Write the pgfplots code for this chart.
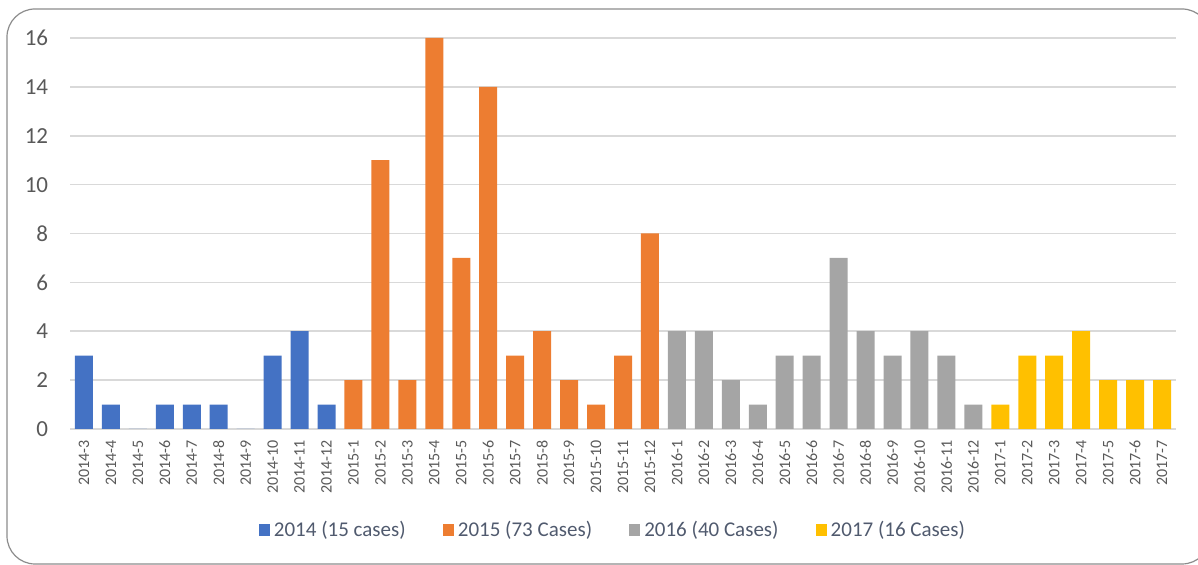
\documentclass[border=0pt]{standalone}
\usepackage{pgfplots}
\pgfplotsset{compat=1.18}
\usepackage{fontspec}
\setmainfont{Carlito}
\definecolor{cA}{HTML}{4472C4}
\definecolor{cB}{HTML}{ED7D31}
\definecolor{cC}{HTML}{A5A5A5}
\definecolor{cD}{HTML}{FFC000}
\definecolor{gridc}{HTML}{D9D9D9}
\definecolor{tickc}{HTML}{595959}
\definecolor{legc}{HTML}{505A6E}
\definecolor{framec}{HTML}{8C8C8C}
\pgfplotsset{
  mybar/.style={ybar, bar width=9pt, bar shift=0pt, draw=none, fill=#1,
    legend image code/.code={\fill[#1] (0pt,-2.8pt) rectangle (5.6pt,2.8pt);}},
}
\begin{document}
\begin{tikzpicture}
\useasboundingbox (-35.25pt,-68pt) rectangle (563.75pt,214.5pt);
\begin{scope}
\clip (-35.25pt,-68pt) rectangle (563.75pt,214.5pt);
\draw[framec, line width=0.6pt, rounded corners=14pt] (-31.75pt,-67.5pt) rectangle (569.75pt,210pt);
\end{scope}
\begin{axis}[
  at={(0pt,0pt)}, anchor=south west,
  scale only axis, width=552.5pt, height=195.5pt,
  xmin=-0.5, xmax=40.5, ymin=0, ymax=16,
  ytick={0,2,...,16},
  xtick={0,...,40},
  xticklabels={2014-3,2014-4,2014-5,2014-6,2014-7,2014-8,2014-9,2014-10,2014-11,2014-12,
    2015-1,2015-2,2015-3,2015-4,2015-5,2015-6,2015-7,2015-8,2015-9,2015-10,2015-11,2015-12,
    2016-1,2016-2,2016-3,2016-4,2016-5,2016-6,2016-7,2016-8,2016-9,2016-10,2016-11,2016-12,
    2017-1,2017-2,2017-3,2017-4,2017-5,2017-6,2017-7},
  /pgf/number format/assume math mode=true,
  axis x line*=bottom, axis y line*=left,
  y axis line style={draw=none},
  x axis line style={draw=gridc, line width=0.8pt},
  major tick length=0pt,
  ymajorgrids, grid style={gridc, line width=0.8pt},
  yticklabel style={inner sep=0pt, xshift=-11pt, font=\fontsize{11.5}{13}\selectfont, text=tickc},
  xticklabel style={rotate=90, anchor=east, inner sep=0pt, font=\fontsize{8}{9}\selectfont, text=tickc},
  xticklabel shift=5.5pt,
  legend columns=4,
  legend style={at={(0.170,-0.2583)}, anchor=west, draw=none, fill=none,
    inner xsep=0pt, inner ysep=0pt,
    font=\fontsize{10.5}{12}\selectfont, text=legc,
    /tikz/every even column/.append style={column sep=16.5pt}},
]
\addplot[mybar=cA] coordinates {(0,3)(1,1)(2,0)(3,1)(4,1)(5,1)(6,0)(7,3)(8,4)(9,1)};
\addlegendentry{2014 (15 cases)}
\addplot[mybar=cB] coordinates {(10,2)(11,11)(12,2)(13,16)(14,7)(15,14)(16,3)(17,4)(18,2)(19,1)(20,3)(21,8)};
\addlegendentry{2015 (73 Cases)}
\addplot[mybar=cC] coordinates {(22,4)(23,4)(24,2)(25,1)(26,3)(27,3)(28,7)(29,4)(30,3)(31,4)(32,3)(33,1)};
\addlegendentry{2016 (40 Cases)}
\addplot[mybar=cD] coordinates {(34,1)(35,3)(36,3)(37,4)(38,2)(39,2)(40,2)};
\addlegendentry{2017 (16 Cases)}
\end{axis}
\end{tikzpicture}
\end{document}
